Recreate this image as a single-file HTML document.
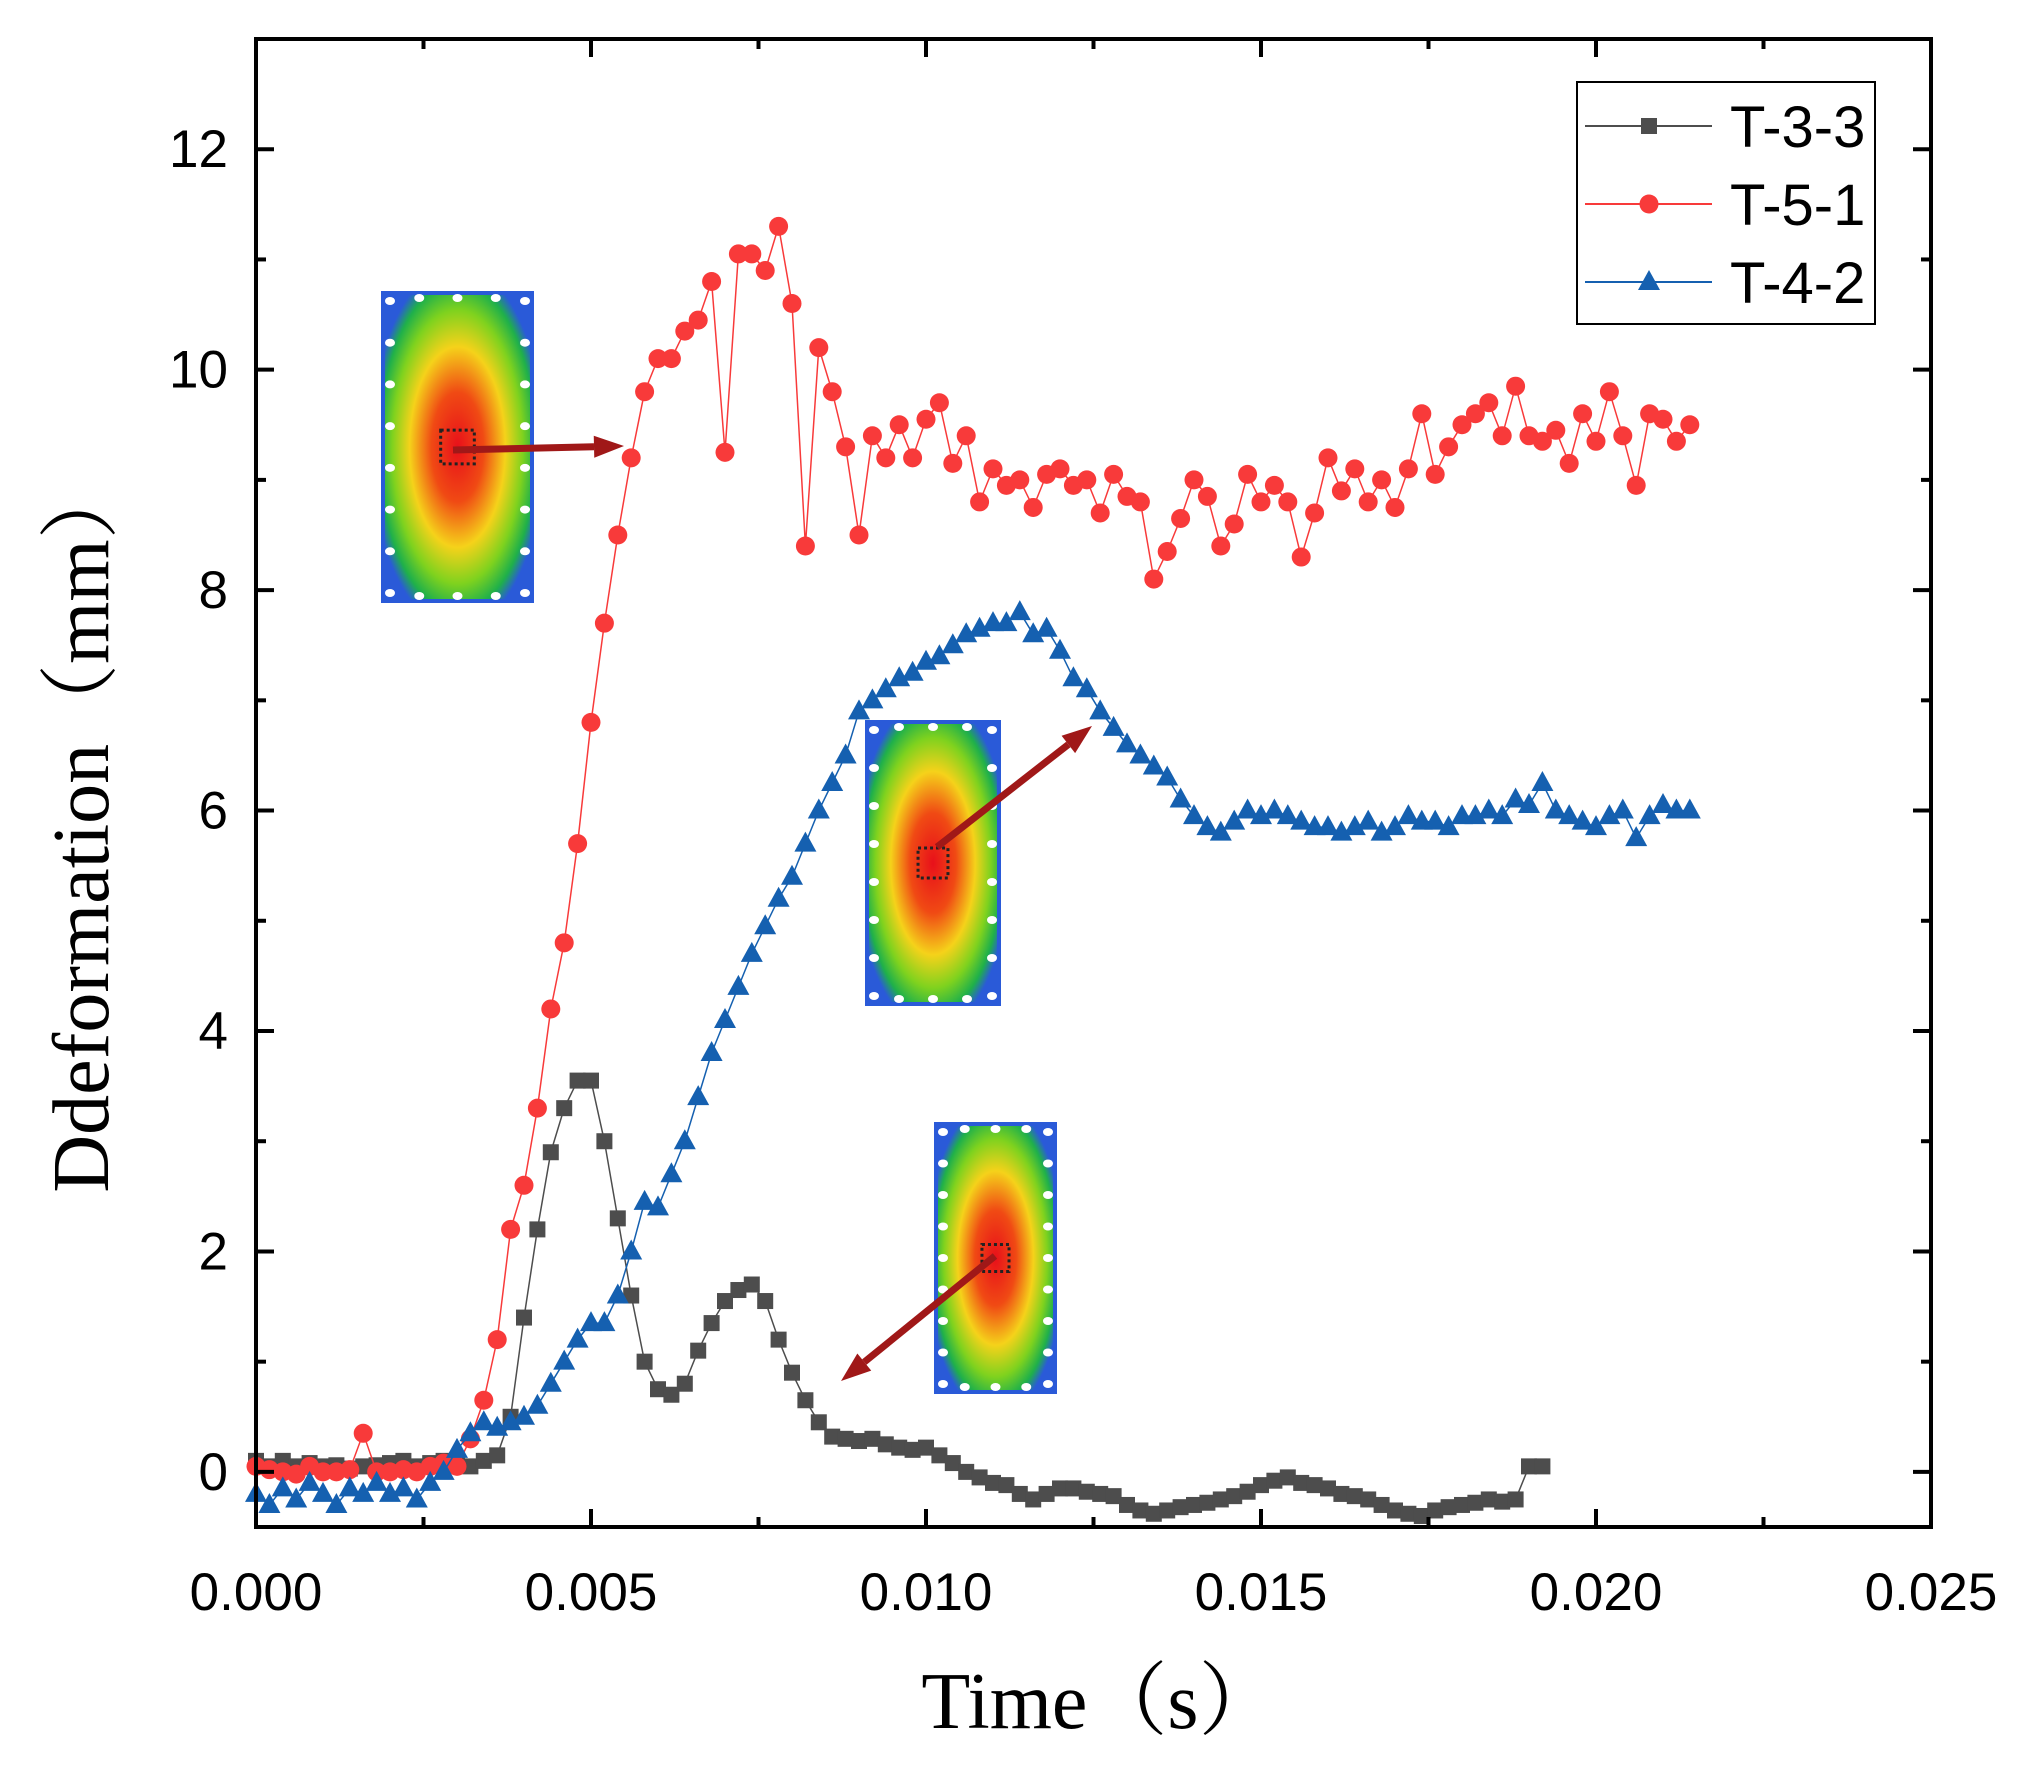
<!DOCTYPE html>
<html><head><meta charset="utf-8">
<style>
html,body{margin:0;padding:0;background:#fff;}
svg{display:block;}
.tick{font-family:"Liberation Sans",sans-serif;font-size:53px;fill:#000;}
.title{font-family:"Liberation Serif","Noto Serif CJK SC",serif;font-size:80px;fill:#000;}
.leg{font-family:"Liberation Sans",sans-serif;font-size:58px;fill:#000;}
</style></head>
<body>
<svg id="chart" width="2030" height="1768" viewBox="0 0 2030 1768" xmlns="http://www.w3.org/2000/svg">
<defs>
<radialGradient id="cg1" cx="50%" cy="50%" r="60%">
<stop offset="0" stop-color="#e8101a"/><stop offset="0.3" stop-color="#f04a14"/><stop offset="0.55" stop-color="#f5d21a"/><stop offset="0.75" stop-color="#7fd21e"/><stop offset="0.9" stop-color="#1fb04a"/><stop offset="1" stop-color="#2a5ad8"/>
</radialGradient>
</defs>
<g id="insets"></g>
<g id="marks"></g>
<g id="axes"></g>
</svg>
<script>
const tStep = 0.0002;
const seriesT33 = [0.1,0.05,0.1,0.05,0.08,0.05,0.06,0.03,0.05,0.06,0.08,0.1,0.05,0.08,0.1,0.06,
0.05,0.1,0.15,0.5,1.4,2.2,2.9,3.3,3.55,3.55,3.0,2.3,1.6,1.0,0.75,0.7,0.8,1.1,1.35,1.55,1.65,1.7,1.55,1.2,0.9,0.65,0.45,0.32,0.3,0.28,0.3,0.25,0.22,0.2,0.22,0.15,0.08,0.0,-0.05,-0.1,-0.12,-0.2,-0.25,-0.2,-0.15,-0.15,-0.18,-0.2,-0.22,-0.3,-0.35,-0.38,-0.35,-0.32,-0.3,-0.28,-0.25,-0.22,-0.18,-0.12,-0.08,-0.05,-0.1,-0.12,-0.15,-0.2,-0.22,-0.25,-0.3,-0.35,-0.38,-0.4,-0.35,-0.32,-0.3,-0.28,-0.25,-0.27,-0.25,0.05,0.05];
const seriesT51 = [0.05,0.02,0.0,-0.02,0.05,0.0,0.0,0.02,0.35,0.0,0.0,0.02,0.0,0.05,0.08,0.05,
0.3,0.65,1.2,2.2,2.6,3.3,4.2,4.8,5.7,6.8,7.7,8.5,9.2,9.8,10.1,10.1,10.35,10.45,10.8,9.25,11.05,11.05,10.9,11.3,10.6,8.4,10.2,9.8,9.3,8.5,9.4,9.2,9.5,9.2,9.55,9.7,9.15,9.4,8.8,9.1,8.95,9.0,8.75,9.05,9.1,8.95,9.0,8.7,9.05,8.85,8.8,8.1,8.35,8.65,9.0,8.85,8.4,8.6,9.05,8.8,8.95,8.8,8.3,8.7,9.2,8.9,9.1,8.8,9.0,8.75,9.1,9.6,9.05,9.3,9.5,9.6,9.7,9.4,9.85,9.4,9.35,9.45,9.15,9.6,9.35,9.8,9.4,8.95,9.6,9.55,9.35,9.5];
const seriesT42 = [-0.2,-0.3,-0.15,-0.25,-0.1,-0.2,-0.3,-0.15,-0.2,-0.1,-0.2,-0.15,-0.25,-0.1,
0.0,0.2,0.35,0.45,0.4,0.45,0.5,0.6,0.8,1.0,1.2,1.35,1.35,1.6,2.0,2.45,2.4,2.7,3.0,3.4,3.8,4.1,4.4,4.7,4.95,5.2,5.4,5.7,6.0,6.25,6.5,6.9,7.0,7.1,7.2,7.25,7.35,7.4,7.5,7.6,7.65,7.7,7.7,7.8,7.6,7.65,7.45,7.2,7.1,6.9,6.75,6.6,6.5,6.4,6.3,6.1,5.95,5.85,5.8,5.9,6.0,5.95,6.0,5.95,5.9,5.85,5.85,5.8,5.85,5.9,5.8,5.85,5.95,5.9,5.9,5.85,5.95,5.95,6.0,5.95,6.1,6.05,6.25,6.0,5.95,5.9,5.85,5.95,6.0,5.75,5.95,6.05,6.0,6.0];
const xTicks = ["0.000","0.005","0.010","0.015","0.020","0.025"];
const yTicks = ["0","2","4","6","8","10","12"];
const legendLabels = ["T-3-3","T-5-1","T-4-2"];

const L=256,R=1931,T=39,B=1527;
const xMin=0,xMax=0.025,yMin=-0.5,yMax=13.0;
const X=v=>L+(v-xMin)/(xMax-xMin)*(R-L);
const Y=v=>B-(v-yMin)/(yMax-yMin)*(B-T);
const NS="http://www.w3.org/2000/svg";
function mk(tag,attrs,parent){const e=document.createElementNS(NS,tag);for(const k in attrs)e.setAttribute(k,attrs[k]);parent.appendChild(e);return e;}
const marks=document.getElementById('marks'),axes=document.getElementById('axes'),insets=document.getElementById('insets');

function inset(x,y,w,h,name){
  const g=mk('g',{},insets);
  
  
  mk('rect',{x:x,y:y,width:w,height:h,fill:'#2a5ad8'},g);
  mk('rect',{x:x+4,y:y+4,width:w-8,height:h-8,rx:8,fill:'url(#cg1)'},g);
  const nx=4,ny=Math.round(h/(w/4));
  for(let i=0;i<ny;i++){const cy=y+10+i*(h-20)/(ny-1);mk('ellipse',{cx:x+9,cy:cy,rx:5,ry:4,fill:'#fff'},g);mk('ellipse',{cx:x+w-9,cy:cy,rx:5,ry:4,fill:'#fff'},g);}
  for(let i=1;i<nx;i++){const cx=x+i*w/nx;mk('ellipse',{cx:cx,cy:y+7,rx:5,ry:4,fill:'#fff'},g);mk('ellipse',{cx:cx,cy:y+h-7,rx:5,ry:4,fill:'#fff'},g);}
  const s=w*0.22;
  mk('rect',{x:x+w/2-s/2,y:y+h/2-s/2,width:s,height:s,fill:'none',stroke:'#222','stroke-width':3,'stroke-dasharray':'3,3'},g);
}
inset(381,291,153,312,'contour-inset-t51');
inset(865,720,136,286,'contour-inset-t42');
inset(934,1122,123,272,'contour-inset-t33');
function arrow(x1,y1,x2,y2,name){
  const g=mk('g',{},insets);
  
  
  const a=Math.atan2(y2-y1,x2-x1),hl=30,hw=11;
  const bx=x2-hl*Math.cos(a),by=y2-hl*Math.sin(a);
  mk('line',{x1:x1,y1:y1,x2:bx,y2:by,stroke:'#a01818','stroke-width':7},g);
  mk('polygon',{points:`${x2},${y2} ${bx-hw*Math.sin(a)},${by+hw*Math.cos(a)} ${bx+hw*Math.sin(a)},${by-hw*Math.cos(a)}`,fill:'#a01818'},g);
}
arrow(453,450,624,446,'arrow-t51');
arrow(937,847,1092,726,'arrow-t42');
arrow(995,1256,841,1381,'arrow-t33');

function marker(type,cx,cy,color,parent){
  if(type==='sq') return mk('rect',{x:cx-8,y:cy-8,width:16,height:16,fill:color},parent);
  if(type==='ci') return mk('circle',{cx:cx,cy:cy,r:9.5,fill:color},parent);
  return mk('polygon',{points:`${cx},${cy-12} ${cx-11},${cy+8} ${cx+11},${cy+8}`,fill:color},parent);
}
function series(vals,color,type,name){
  const g=mk('g',{},marks);
  
  
  const pts=vals.map((v,i)=>X(i*tStep).toFixed(1)+','+Y(v).toFixed(1)).join(' ');
  mk('polyline',{points:pts,fill:'none',stroke:color,'stroke-width':1.5},g);
  vals.forEach((v,i)=>{const m=marker(type,X(i*tStep),Y(v),color,g);
    
    });
}
series(seriesT33,'#4d4d4d','sq','series-t-3-3');
series(seriesT51,'#f83a3a','ci','series-t-5-1');
series(seriesT42,'#1560b0','tr','series-t-4-2');

const frame=mk('rect',{x:L,y:T,width:R-L,height:B-T,fill:'none',stroke:'#000','stroke-width':4},axes);


xTicks.forEach((lab,i)=>{
  const v=i*0.005,x=X(v);
  mk('line',{x1:x,y1:B,x2:x,y2:B-18,stroke:'#000','stroke-width':4},axes);
  mk('line',{x1:x,y1:T,x2:x,y2:T+18,stroke:'#000','stroke-width':4},axes);
  if(i<xTicks.length-1){const xm=X(v+0.0025);
    mk('line',{x1:xm,y1:B,x2:xm,y2:B-10,stroke:'#000','stroke-width':4},axes);
    mk('line',{x1:xm,y1:T,x2:xm,y2:T+10,stroke:'#000','stroke-width':4},axes);}
  const t=mk('text',{x:x,y:1610,'text-anchor':'middle',class:'tick'},axes);t.textContent=lab;
  
  
});
yTicks.forEach((lab,i)=>{
  const v=+lab,y=Y(v);
  mk('line',{x1:L,y1:y,x2:L+18,y2:y,stroke:'#000','stroke-width':4},axes);
  mk('line',{x1:R,y1:y,x2:R-18,y2:y,stroke:'#000','stroke-width':4},axes);
  const ym=Y(v+1);
  if(v+1<yMax){mk('line',{x1:L,y1:ym,x2:L+10,y2:ym,stroke:'#000','stroke-width':4},axes);
  mk('line',{x1:R,y1:ym,x2:R-10,y2:ym,stroke:'#000','stroke-width':4},axes);}
  const t=mk('text',{x:228,y:y+18,'text-anchor':'end',class:'tick'},axes);t.textContent=lab;
  
  
});
const xt=mk('text',{x:1100,y:1728,'text-anchor':'middle',class:'title'},axes);xt.textContent='Time（s）';


const yt=mk('text',{x:0,y:0,'text-anchor':'middle',class:'title',transform:'translate(108,826) rotate(-90)'},axes);yt.textContent='Ddeformation（mm）';



const lg=mk('g',{},axes);


mk('rect',{x:1577,y:82,width:298,height:242,fill:'#fff',stroke:'#000','stroke-width':2},lg);
const lcol=['#4d4d4d','#f83a3a','#1560b0'],ltype=['sq','ci','tr'];
legendLabels.forEach((lab,i)=>{
  const y=126+i*78;
  const e=mk('g',{},lg);
  
  
  mk('line',{x1:1585,y1:y,x2:1712,y2:y,stroke:lcol[i],'stroke-width':2},e);
  marker(ltype[i],1649,y,lcol[i],e);
  const t=mk('text',{x:1730,y:y+21,class:'leg'},e);t.textContent=lab;
});
</script>
</body></html>
